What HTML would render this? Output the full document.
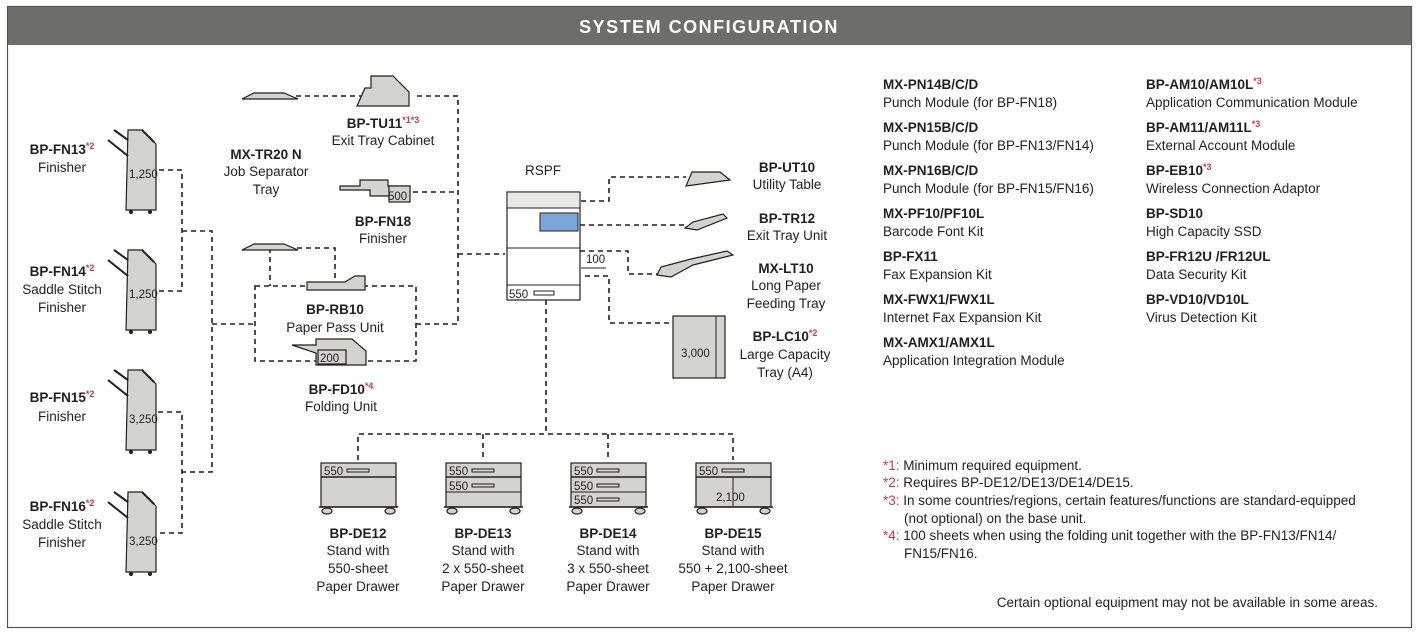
<!DOCTYPE html>
<html><head><meta charset="utf-8"><style>
html,body{margin:0;padding:0;background:#fff;}
svg{display:block;}
text{font-family:"Liberation Sans",sans-serif;font-size:13.5px;fill:#231f20;}
.b{font-weight:bold;}
.c{text-anchor:middle;}
.r{fill:#e5323f;font-size:9px;}
.d{fill:none;stroke:#231f20;stroke-width:1.6;stroke-dasharray:5,4;}
.m{fill:#d3d3cf;stroke:#231f20;stroke-width:1.2;}
.s{font-size:11.5px;}
</style></head><body>
<svg width="1418" height="633" viewBox="0 0 1418 633" xmlns="http://www.w3.org/2000/svg">
<rect x="7.5" y="6.5" width="1404" height="621" fill="#fff" stroke="#555" stroke-width="1.2"/>
<rect x="8" y="7" width="1403" height="38" fill="#6d6d6b"/>
<text x="709" y="33" class="b c" style="fill:#fff;font-size:18px;letter-spacing:1.5px">SYSTEM CONFIGURATION</text>

<path class="d" d="M159 170H182V291H159M182 231H212V472H182M158 412H182V533H158M212 324H255"/>
<path class="d" d="M255 286H416V361H255ZM416 324H458V96H415M413 192H458M458 254H505"/>
<path class="d" d="M270 248H335V278M270 248V286M296 96H370"/>
<path class="d" d="M572 201H609V177H686M580 225H685M580 251H628V274H657M585 276H609V323H672"/>
<path class="d" d="M546 300V434M358 460V434H733V460M483 434V460M608 434V460"/>

<g id="fin">
<path class="m" d="M128 130h14l14 14v66h-30z"/>
<path d="M114 130l14 10M108 140l20 16M142 130l12 12" stroke="#231f20" stroke-width="2" fill="none"/>
<circle cx="131" cy="212" r="2" fill="#231f20"/><circle cx="150" cy="212" r="2" fill="#231f20"/>
</g>
<text x="129" y="178" class="s">1,250</text>
<use href="#fin" y="120"/><text x="129" y="298" class="s">1,250</text>
<use href="#fin" y="240"/><text x="129" y="423" class="s">3,250</text>
<use href="#fin" y="362"/><text x="129" y="545" class="s">3,250</text>

<text x="62" y="154" class="b c">BP-FN13<tspan class="r" dy="-5">*2</tspan></text>
<text x="62" y="172" class="c">Finisher</text>
<text x="62" y="276" class="b c">BP-FN14<tspan class="r" dy="-5">*2</tspan></text>
<text x="62" y="294" class="c">Saddle Stitch</text>
<text x="62" y="312" class="c">Finisher</text>
<text x="62" y="402" class="b c">BP-FN15<tspan class="r" dy="-5">*2</tspan></text>
<text x="62" y="421" class="c">Finisher</text>
<text x="62" y="511" class="b c">BP-FN16<tspan class="r" dy="-5">*2</tspan></text>
<text x="62" y="529" class="c">Saddle Stitch</text>
<text x="62" y="547" class="c">Finisher</text>

<path class="m" d="M242 99l12-6h30l14 6z"/>
<path class="m" d="M242 250l12-6h30l14 6z"/>
<path class="m" d="M357 106l8-18h6v-12h22l16 16v14z"/>
<path class="m" d="M340 186h20v-6h28v6h22v10h-40v-6h-30z"/>
<rect x="389" y="186" width="21" height="16" class="m"/>
<text x="388" y="200" class="s">500</text>
<path class="m" d="M307 290v-8h38l10-6h10v14z"/>
<path class="m" d="M292 345h24v-6h36l14 12v14h-50v-12z"/>
<rect x="318" y="350" width="28" height="14" class="m"/>
<text x="320" y="362" class="s">200</text>

<text x="266" y="159" class="b c">MX-TR20 N</text>
<text x="266" y="176" class="c">Job Separator</text>
<text x="266" y="194" class="c">Tray</text>
<text x="383" y="128" class="b c">BP-TU11<tspan class="r" dy="-5">*1*3</tspan></text>
<text x="383" y="145" class="c">Exit Tray Cabinet</text>
<text x="383" y="226" class="b c">BP-FN18</text>
<text x="383" y="243" class="c">Finisher</text>
<text x="335" y="314" class="b c">BP-RB10</text>
<text x="335" y="332" class="c">Paper Pass Unit</text>
<text x="341" y="394" class="b c">BP-FD10<tspan class="r" dy="-5">*4</tspan></text>
<text x="341" y="411" class="c">Folding Unit</text>

<text x="543" y="175" class="c">RSPF</text>
<rect x="507" y="192" width="73" height="108" fill="#fff" stroke="#231f20" stroke-width="1.2"/>
<rect x="507" y="192" width="73" height="16" fill="#e8e8e6" stroke="#231f20"/>
<rect x="540" y="213" width="38" height="18" fill="#7aa7d8" stroke="#231f20"/>
<path d="M507 248h73M507 285h73" stroke="#231f20" fill="none"/>
<text x="509" y="298" class="s">550</text>
<rect x="534" y="291" width="20" height="4" fill="none" stroke="#231f20"/>
<text x="586" y="263" class="s">100</text>
<path d="M581 268h25" stroke="#231f20"/>
<path class="m" d="M686 186l6-14h28l10 8z"/>
<path class="m" d="M685 228l8-6 30-8 4 4-30 12z"/>
<path class="m" d="M657 275l4-8 30-8 36-8 6 4-40 10-22 12z"/>
<rect x="673" y="316" width="52" height="62" class="m"/>
<path d="M716 316v62" stroke="#231f20"/>
<text x="681" y="357" class="s">3,000</text>

<text x="787" y="172" class="b c">BP-UT10</text>
<text x="787" y="189" class="c">Utility Table</text>
<text x="787" y="223" class="b c">BP-TR12</text>
<text x="787" y="240" class="c">Exit Tray Unit</text>
<text x="786" y="273" class="b c">MX-LT10</text>
<text x="786" y="290" class="c">Long Paper</text>
<text x="786" y="308" class="c">Feeding Tray</text>
<text x="785" y="341" class="b c">BP-LC10<tspan class="r" dy="-5">*2</tspan></text>
<text x="785" y="359" class="c">Large Capacity</text>
<text x="785" y="377" class="c">Tray (A4)</text>

<g id="dr"><rect x="321" y="463" width="75" height="44" class="m"/>
<path d="M321 477h75M319 507h79" stroke="#231f20" stroke-width="1.5"/>
<ellipse cx="327" cy="511" rx="5" ry="3" class="m"/><ellipse cx="390" cy="511" rx="5" ry="3" class="m"/>
<rect x="347" y="469" width="22" height="3" fill="none" stroke="#231f20"/></g>
<text x="324" y="475" class="s">550</text>
<use href="#dr" x="125"/><path d="M446 492h75" stroke="#231f20"/><rect x="472" y="484" width="22" height="3" fill="none" stroke="#231f20"/>
<text x="449" y="475" class="s">550</text><text x="449" y="490" class="s">550</text>
<use href="#dr" x="250"/><path d="M571 492h75" stroke="#231f20"/><rect x="597" y="484" width="22" height="3" fill="none" stroke="#231f20"/><rect x="597" y="498" width="22" height="3" fill="none" stroke="#231f20"/>
<text x="574" y="475" class="s">550</text><text x="574" y="490" class="s">550</text><text x="574" y="504" class="s">550</text>
<use href="#dr" x="375"/><path d="M733 477v30" stroke="#231f20"/>
<text x="699" y="475" class="s">550</text><text x="716" y="501" class="s">2,100</text>

<text x="358" y="538" class="b c">BP-DE12</text><text x="358" y="555" class="c">Stand with</text><text x="358" y="573" class="c">550-sheet</text><text x="358" y="591" class="c">Paper Drawer</text>
<text x="483" y="538" class="b c">BP-DE13</text><text x="483" y="555" class="c">Stand with</text><text x="483" y="573" class="c">2 x 550-sheet</text><text x="483" y="591" class="c">Paper Drawer</text>
<text x="608" y="538" class="b c">BP-DE14</text><text x="608" y="555" class="c">Stand with</text><text x="608" y="573" class="c">3 x 550-sheet</text><text x="608" y="591" class="c">Paper Drawer</text>
<text x="733" y="538" class="b c">BP-DE15</text><text x="733" y="555" class="c">Stand with</text><text x="733" y="573" class="c">550 + 2,100-sheet</text><text x="733" y="591" class="c">Paper Drawer</text>

<g>
<text x="883" y="89" class="b">MX-PN14B/C/D</text><text x="883" y="107">Punch Module (for BP-FN18)</text>
<text x="883" y="132" class="b">MX-PN15B/C/D</text><text x="883" y="150">Punch Module (for BP-FN13/FN14)</text>
<text x="883" y="175" class="b">MX-PN16B/C/D</text><text x="883" y="193">Punch Module (for BP-FN15/FN16)</text>
<text x="883" y="218" class="b">MX-PF10/PF10L</text><text x="883" y="236">Barcode Font Kit</text>
<text x="883" y="261" class="b">BP-FX11</text><text x="883" y="279">Fax Expansion Kit</text>
<text x="883" y="304" class="b">MX-FWX1/FWX1L</text><text x="883" y="322">Internet Fax Expansion Kit</text>
<text x="883" y="347" class="b">MX-AMX1/AMX1L</text><text x="883" y="365">Application Integration Module</text>
<text x="1146" y="89" class="b">BP-AM10/AM10L<tspan class="r" dy="-5">*3</tspan></text><text x="1146" y="107">Application Communication Module</text>
<text x="1146" y="132" class="b">BP-AM11/AM11L<tspan class="r" dy="-5">*3</tspan></text><text x="1146" y="150">External Account Module</text>
<text x="1146" y="175" class="b">BP-EB10<tspan class="r" dy="-5">*3</tspan></text><text x="1146" y="193">Wireless Connection Adaptor</text>
<text x="1146" y="218" class="b">BP-SD10</text><text x="1146" y="236">High Capacity SSD</text>
<text x="1146" y="261" class="b">BP-FR12U /FR12UL</text><text x="1146" y="279">Data Security Kit</text>
<text x="1146" y="304" class="b">BP-VD10/VD10L</text><text x="1146" y="322">Virus Detection Kit</text>
</g>

<g style="font-size:13.5px">
<text x="883" y="470"><tspan style="fill:#e5323f">*1:</tspan> Minimum required equipment.</text>
<text x="883" y="487"><tspan style="fill:#e5323f">*2:</tspan> Requires BP-DE12/DE13/DE14/DE15.</text>
<text x="883" y="505"><tspan style="fill:#e5323f">*3:</tspan> In some countries/regions, certain features/functions are standard-equipped</text>
<text x="904" y="523">(not optional) on the base unit.</text>
<text x="883" y="540"><tspan style="fill:#e5323f">*4:</tspan> 100 sheets when using the folding unit together with the BP-FN13/FN14/</text>
<text x="904" y="558">FN15/FN16.</text>
<text x="1378" y="607" style="text-anchor:end">Certain optional equipment may not be available in some areas.</text>
</g>
</svg>
</body></html>
